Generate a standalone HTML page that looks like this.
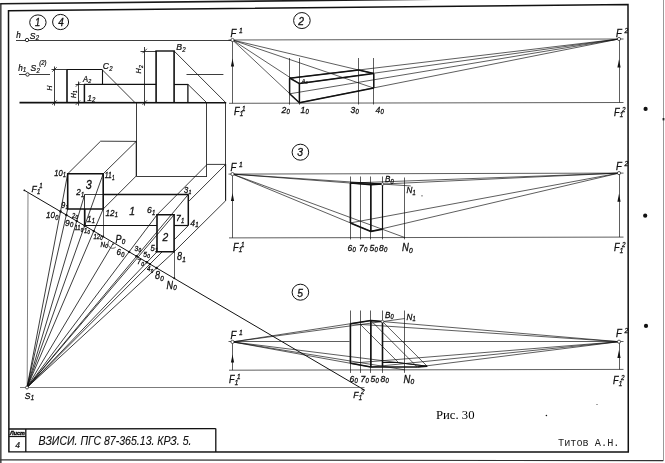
<!DOCTYPE html>
<html lang="ru"><head><meta charset="utf-8"><title>Рис. 30</title>
<style>
html,body{margin:0;padding:0;background:#fff;}
body{width:665px;height:463px;overflow:hidden;}
svg{display:block;filter:grayscale(1);}
</style></head><body>
<svg width="665" height="463" viewBox="0 0 665 463" shape-rendering="geometricPrecision">
<rect x="0" y="0" width="665" height="463" fill="#fff"/>
<g>
<line x1="0.85" y1="463.00" x2="0.85" y2="3.20" stroke="#1a1a1a" stroke-width="1.25"/>
<line x1="0.30" y1="3.70" x2="434.00" y2="-0.70" stroke="#1a1a1a" stroke-width="1.6"/>
<line x1="0.00" y1="459.90" x2="663.20" y2="460.70" stroke="#333" stroke-width="1.2"/>
<line x1="663.50" y1="461.00" x2="663.50" y2="0.00" stroke="#999" stroke-width="1.0"/>
<rect x="662.6" y="118" width="1.8" height="2.4" fill="#222"/>
<polygon points="8.50,10.70 628.00,4.50 628.30,452.00 8.90,451.80" fill="none" stroke="#111" stroke-width="1.5" stroke-linejoin="miter"/>
<line x1="8.90" y1="429.00" x2="215.80" y2="428.60" stroke="#111" stroke-width="1.3"/>
<line x1="215.80" y1="428.60" x2="215.80" y2="452.00" stroke="#111" stroke-width="1.3"/>
<line x1="25.80" y1="429.00" x2="25.80" y2="452.00" stroke="#111" stroke-width="1.3"/>
<line x1="8.90" y1="436.50" x2="25.80" y2="436.50" stroke="#111" stroke-width="1.2"/>
<text transform="translate(10.00,435.20) scale(0.93,1)" font-family="&quot;Liberation Sans&quot;, sans-serif" font-style="italic" font-weight="bold" font-size="5.8" text-anchor="start" fill="#111" stroke="#111" stroke-width="0.45">Лист</text>
<text transform="translate(15.20,447.80) scale(0.9,1)" font-family="&quot;Liberation Sans&quot;, sans-serif" font-style="italic" font-weight="normal" font-size="9.5" text-anchor="start" fill="#111" stroke="#111" stroke-width="0.25">4</text>
<text transform="translate(38.60,445.00) scale(0.812,1)" font-family="&quot;Liberation Sans&quot;, sans-serif" font-style="italic" font-weight="normal" font-size="13" text-anchor="start" fill="#111" stroke="#111" stroke-width="0.12">ВЗИСИ. ПГС 87-365.13. КРЗ. 5.</text>
<text transform="translate(558.00,446.40) scale(1.025,1)" font-family="&quot;Liberation Mono&quot;, monospace" font-style="normal" font-weight="normal" font-size="10" text-anchor="start" fill="#222" stroke="#222" stroke-width="0">Титов А.Н.</text>
<text transform="translate(436.00,418.80) scale(1.0,1)" font-family="&quot;Liberation Serif&quot;, serif" font-style="normal" font-weight="normal" font-size="12.7" text-anchor="start" fill="#000" stroke="#000" stroke-width="0">Рис. 30</text>
<circle cx="645.60" cy="108.90" r="2.1" fill="#111"/>
<circle cx="645.20" cy="215.70" r="2.1" fill="#111"/>
<circle cx="646.00" cy="325.90" r="2.1" fill="#111"/>
<circle cx="546.40" cy="415.50" r="0.8" fill="#111"/>
<circle cx="422.00" cy="195.80" r="0.6" fill="#111"/>
<circle cx="597.00" cy="404.40" r="0.5" fill="#111"/>
<ellipse cx="37.90" cy="22.40" rx="8.2" ry="7.5" fill="none" stroke="#111" stroke-width="1.0"/>
<text transform="translate(35.00,26.10) scale(0.9,1)" font-family="&quot;Liberation Sans&quot;, sans-serif" font-style="italic" font-weight="normal" font-size="10.5" text-anchor="start" fill="#111" stroke="#111" stroke-width="0.3">1</text>
<ellipse cx="60.60" cy="22.00" rx="8.0" ry="7.6" fill="none" stroke="#111" stroke-width="1.0"/>
<text transform="translate(58.30,25.90) scale(0.9,1)" font-family="&quot;Liberation Sans&quot;, sans-serif" font-style="italic" font-weight="normal" font-size="11" text-anchor="start" fill="#111" stroke="#111" stroke-width="0.3">4</text>
<ellipse cx="301.90" cy="20.55" rx="8.3" ry="8.0" fill="none" stroke="#111" stroke-width="1.0"/>
<text transform="translate(298.20,24.80) scale(0.9,1)" font-family="&quot;Liberation Sans&quot;, sans-serif" font-style="italic" font-weight="normal" font-size="11.5" text-anchor="start" fill="#111" stroke="#111" stroke-width="0.3">2</text>
<ellipse cx="300.40" cy="152.20" rx="8.3" ry="8.0" fill="none" stroke="#111" stroke-width="1.0"/>
<text transform="translate(297.30,156.40) scale(0.9,1)" font-family="&quot;Liberation Sans&quot;, sans-serif" font-style="italic" font-weight="normal" font-size="11.5" text-anchor="start" fill="#111" stroke="#111" stroke-width="0.3">3</text>
<ellipse cx="300.40" cy="292.20" rx="8.3" ry="8.0" fill="none" stroke="#111" stroke-width="1.0"/>
<text transform="translate(297.20,296.50) scale(0.9,1)" font-family="&quot;Liberation Sans&quot;, sans-serif" font-style="italic" font-weight="normal" font-size="11.5" text-anchor="start" fill="#111" stroke="#111" stroke-width="0.3">5</text>
<line x1="16.00" y1="40.50" x2="232.50" y2="40.50" stroke="#111" stroke-width="0.82"/>
<circle cx="27.00" cy="40.00" r="1.7" fill="#fff" stroke="#1a1a1a" stroke-width="0.9"/>
<line x1="19.00" y1="74.50" x2="50.00" y2="74.50" stroke="#111" stroke-width="0.82"/>
<circle cx="27.50" cy="74.50" r="1.7" fill="#fff" stroke="#1a1a1a" stroke-width="0.9"/>
<line x1="186.50" y1="74.50" x2="223.40" y2="74.50" stroke="#111" stroke-width="0.82"/>
<line x1="19.50" y1="102.60" x2="226.20" y2="102.80" stroke="#111" stroke-width="1.6"/>
<line x1="67.00" y1="69.50" x2="67.00" y2="102.60" stroke="#111" stroke-width="1.6"/>
<line x1="67.00" y1="69.50" x2="102.00" y2="69.50" stroke="#111" stroke-width="1.1"/>
<line x1="102.50" y1="69.50" x2="102.50" y2="84.50" stroke="#111" stroke-width="1.1"/>
<line x1="84.00" y1="84.40" x2="156.00" y2="84.40" stroke="#111" stroke-width="1.3"/>
<line x1="84.40" y1="84.40" x2="84.40" y2="102.60" stroke="#111" stroke-width="1.5"/>
<line x1="174.10" y1="84.50" x2="187.90" y2="84.50" stroke="#111" stroke-width="1.2"/>
<line x1="187.90" y1="84.30" x2="187.90" y2="102.60" stroke="#111" stroke-width="1.3"/>
<line x1="156.10" y1="51.00" x2="156.10" y2="102.60" stroke="#111" stroke-width="1.6"/>
<line x1="174.10" y1="51.00" x2="174.10" y2="102.60" stroke="#111" stroke-width="1.6"/>
<line x1="155.30" y1="51.00" x2="174.90" y2="51.00" stroke="#111" stroke-width="1.4"/>
<line x1="102.00" y1="69.50" x2="135.00" y2="102.60" stroke="#111" stroke-width="0.82"/>
<line x1="174.10" y1="51.00" x2="225.70" y2="102.60" stroke="#111" stroke-width="0.82"/>
<line x1="187.90" y1="84.30" x2="206.60" y2="102.60" stroke="#111" stroke-width="0.82"/>
<line x1="54.50" y1="66.50" x2="54.50" y2="105.60" stroke="#111" stroke-width="0.82"/>
<line x1="51.50" y1="69.50" x2="67.00" y2="69.50" stroke="#111" stroke-width="0.82"/>
<line x1="52.30" y1="71.70" x2="56.70" y2="67.30" stroke="#111" stroke-width="0.8"/>
<line x1="52.30" y1="104.80" x2="56.70" y2="100.40" stroke="#111" stroke-width="0.8"/>
<line x1="78.50" y1="81.50" x2="78.50" y2="105.60" stroke="#111" stroke-width="0.82"/>
<line x1="75.50" y1="84.50" x2="84.00" y2="84.50" stroke="#111" stroke-width="0.82"/>
<line x1="75.80" y1="86.70" x2="80.20" y2="82.30" stroke="#111" stroke-width="0.8"/>
<line x1="75.80" y1="104.80" x2="80.20" y2="100.40" stroke="#111" stroke-width="0.8"/>
<line x1="144.50" y1="47.00" x2="144.50" y2="105.60" stroke="#111" stroke-width="0.82"/>
<line x1="140.50" y1="51.50" x2="156.00" y2="51.50" stroke="#111" stroke-width="0.82"/>
<line x1="142.50" y1="53.20" x2="146.90" y2="48.80" stroke="#111" stroke-width="0.8"/>
<line x1="142.50" y1="104.80" x2="146.90" y2="100.40" stroke="#111" stroke-width="0.8"/>
<line x1="136.50" y1="102.60" x2="136.50" y2="176.00" stroke="#111" stroke-width="0.82"/>
<line x1="206.50" y1="102.60" x2="206.50" y2="176.40" stroke="#111" stroke-width="0.82"/>
<line x1="225.50" y1="102.60" x2="225.50" y2="200.70" stroke="#111" stroke-width="0.82"/>
<text transform="translate(16.20,38.40) scale(0.9,1)" font-family="&quot;Liberation Sans&quot;, sans-serif" font-style="italic" font-weight="normal" font-size="9" text-anchor="start" fill="#111" stroke="#111" stroke-width="0.25">h</text>
<text transform="translate(29.80,38.50) scale(0.9,1)" font-family="&quot;Liberation Sans&quot;, sans-serif" font-style="italic" font-weight="normal" font-size="9.5" text-anchor="start" fill="#111" stroke="#111" stroke-width="0.25">S<tspan font-size="6.65" dy="1.4" dx="0.2">2</tspan></text>
<text transform="translate(18.20,71.00) scale(0.9,1)" font-family="&quot;Liberation Sans&quot;, sans-serif" font-style="italic" font-weight="normal" font-size="9" text-anchor="start" fill="#111" stroke="#111" stroke-width="0.25">h<tspan font-size="6.30" dy="1.2" dx="0.2">1</tspan></text>
<text transform="translate(30.60,71.00) scale(0.9,1)" font-family="&quot;Liberation Sans&quot;, sans-serif" font-style="italic" font-weight="normal" font-size="9.5" text-anchor="start" fill="#111" stroke="#111" stroke-width="0.25">S<tspan font-size="6.65" dy="1.5" dx="0.2">2</tspan><tspan font-size="6.65" dy="-7.50" dx="-0.60">(2)</tspan></text>
<text transform="translate(102.80,69.10) scale(0.9,1)" font-family="&quot;Liberation Sans&quot;, sans-serif" font-style="italic" font-weight="normal" font-size="9.5" text-anchor="start" fill="#111" stroke="#111" stroke-width="0.25">C<tspan font-size="6.65" dy="1.8" dx="0.2">2</tspan></text>
<text transform="translate(83.00,81.60) scale(0.9,1)" font-family="&quot;Liberation Sans&quot;, sans-serif" font-style="italic" font-weight="normal" font-size="8.5" text-anchor="start" fill="#111" stroke="#111" stroke-width="0.25">A<tspan font-size="5.95" dy="1.2" dx="0.2">2</tspan></text>
<text transform="translate(87.20,100.70) scale(0.9,1)" font-family="&quot;Liberation Sans&quot;, sans-serif" font-style="italic" font-weight="normal" font-size="9.5" text-anchor="start" fill="#111" stroke="#111" stroke-width="0.25">1<tspan font-size="6.65" dy="1.0" dx="0.2">2</tspan></text>
<text transform="translate(176.30,50.30) scale(0.9,1)" font-family="&quot;Liberation Sans&quot;, sans-serif" font-style="italic" font-weight="normal" font-size="9.7" text-anchor="start" fill="#111" stroke="#111" stroke-width="0.25">B<tspan font-size="6.79" dy="1.8" dx="0.2">2</tspan></text>
<text transform="translate(51.70,90.40) rotate(-90) scale(0.9,1)" font-family="&quot;Liberation Sans&quot;, sans-serif" font-style="italic" font-weight="normal" font-size="7.5" text-anchor="start" fill="#111" stroke="#111" stroke-width="0.25">H</text>
<text transform="translate(76.40,97.90) rotate(-90) scale(0.9,1)" font-family="&quot;Liberation Sans&quot;, sans-serif" font-style="italic" font-weight="normal" font-size="7.2" text-anchor="start" fill="#111" stroke="#111" stroke-width="0.25">H<tspan font-size="5.04" dy="1.0" dx="0.2">1</tspan></text>
<text transform="translate(141.40,73.50) rotate(-90) scale(0.9,1)" font-family="&quot;Liberation Sans&quot;, sans-serif" font-style="italic" font-weight="normal" font-size="8" text-anchor="start" fill="#111" stroke="#111" stroke-width="0.25">H<tspan font-size="5.60" dy="1.2" dx="0.2">2</tspan></text>
<polyline points="67.70,173.80 100.60,141.20 136.20,141.40 136.20,176.00 103.20,209.00" fill="none" stroke="#111" stroke-width="0.82" stroke-linejoin="miter"/>
<line x1="136.20" y1="141.40" x2="103.20" y2="173.80" stroke="#111" stroke-width="0.82"/>
<line x1="136.20" y1="176.50" x2="207.00" y2="176.50" stroke="#111" stroke-width="0.82"/>
<polyline points="157.00,214.80 207.20,164.40 225.70,164.40 225.70,200.70 174.10,251.80" fill="none" stroke="#111" stroke-width="0.82" stroke-linejoin="miter"/>
<line x1="225.70" y1="164.40" x2="188.90" y2="201.20" stroke="#111" stroke-width="0.82"/>
<polygon points="67.70,173.80 103.20,173.80 103.20,209.00 67.70,209.00" fill="none" stroke="#111" stroke-width="1.6" stroke-linejoin="miter"/>
<line x1="84.70" y1="194.50" x2="103.20" y2="194.50" stroke="#111" stroke-width="0.8"/>
<line x1="103.20" y1="194.50" x2="188.30" y2="194.40" stroke="#111" stroke-width="1.5"/>
<line x1="188.30" y1="194.40" x2="188.30" y2="225.60" stroke="#111" stroke-width="1.5"/>
<line x1="84.50" y1="194.50" x2="84.50" y2="209.00" stroke="#111" stroke-width="0.8"/>
<line x1="84.70" y1="209.00" x2="84.70" y2="225.60" stroke="#111" stroke-width="1.7"/>
<line x1="84.70" y1="225.50" x2="157.00" y2="225.50" stroke="#111" stroke-width="1.2"/>
<line x1="174.10" y1="225.50" x2="188.30" y2="225.50" stroke="#111" stroke-width="1.2"/>
<polygon points="157.00,214.80 174.10,214.80 174.10,251.80 157.00,251.80" fill="none" stroke="#111" stroke-width="1.6" stroke-linejoin="miter"/>
<line x1="24.00" y1="190.10" x2="364.80" y2="390.30" stroke="#111" stroke-width="1.0"/>
<line x1="28.00" y1="192.00" x2="27.20" y2="386.00" stroke="#444" stroke-width="0.6699999999999999"/>
<line x1="20.00" y1="387.50" x2="364.50" y2="387.50" stroke="#333" stroke-width="0.65"/>
<line x1="67.70" y1="173.80" x2="27.00" y2="387.50" stroke="#111" stroke-width="0.82"/>
<line x1="67.70" y1="209.00" x2="27.00" y2="387.50" stroke="#111" stroke-width="0.82"/>
<line x1="84.70" y1="194.50" x2="27.00" y2="387.50" stroke="#111" stroke-width="0.82"/>
<line x1="103.20" y1="173.80" x2="27.00" y2="387.50" stroke="#111" stroke-width="0.82"/>
<line x1="103.20" y1="209.00" x2="27.00" y2="387.50" stroke="#111" stroke-width="0.82"/>
<line x1="157.00" y1="214.80" x2="27.00" y2="387.50" stroke="#111" stroke-width="0.82"/>
<line x1="188.30" y1="194.40" x2="27.00" y2="387.50" stroke="#111" stroke-width="0.82"/>
<line x1="174.10" y1="214.80" x2="27.00" y2="387.50" stroke="#111" stroke-width="0.82"/>
<line x1="157.00" y1="251.80" x2="27.00" y2="387.50" stroke="#111" stroke-width="0.82"/>
<line x1="174.10" y1="251.80" x2="27.00" y2="387.50" stroke="#111" stroke-width="0.82"/>
<line x1="188.30" y1="225.60" x2="174.10" y2="239.85" stroke="#111" stroke-width="0.82"/>
<line x1="162.20" y1="251.80" x2="27.00" y2="387.50" stroke="#111" stroke-width="0.82"/>
<line x1="113.60" y1="242.73" x2="27.00" y2="387.50" stroke="#111" stroke-width="0.82"/>
<circle cx="27.00" cy="387.50" r="1.5" fill="#fff" stroke="#1a1a1a" stroke-width="0.7"/>
<circle cx="60.51" cy="211.55" r="1.2" fill="#111"/>
<circle cx="66.34" cy="214.97" r="1.2" fill="#111"/>
<circle cx="76.75" cy="221.09" r="1.2" fill="#111"/>
<circle cx="84.68" cy="225.74" r="1.2" fill="#111"/>
<circle cx="93.77" cy="231.09" r="1.2" fill="#111"/>
<circle cx="129.11" cy="251.85" r="1.2" fill="#111"/>
<circle cx="136.63" cy="256.26" r="1.2" fill="#111"/>
<circle cx="146.93" cy="262.31" r="1.2" fill="#111"/>
<circle cx="149.95" cy="264.09" r="1.2" fill="#111"/>
<circle cx="156.57" cy="267.97" r="1.2" fill="#111"/>
<line x1="103.50" y1="209.00" x2="103.50" y2="236.62" stroke="#111" stroke-width="0.6699999999999999"/>
<circle cx="103.20" cy="236.62" r="1.0" fill="#111"/>
<line x1="174.50" y1="251.80" x2="174.50" y2="278.27" stroke="#111" stroke-width="0.6699999999999999"/>
<circle cx="174.30" cy="278.27" r="1.0" fill="#111"/>
<path d="M 109.40 240.33 A 4.6 4.6 0 0 0 115.80 247.03" fill="none" stroke="#1a1a1a" stroke-width="0.7"/>
<circle cx="113.00" cy="244.33" r="0.7" fill="#111"/>
<circle cx="24.30" cy="190.30" r="0.9" fill="#111"/>
<text transform="translate(54.30,175.60) scale(0.8,1)" font-family="&quot;Liberation Sans&quot;, sans-serif" font-style="italic" font-weight="normal" font-size="9.5" text-anchor="start" fill="#111" stroke="#111" stroke-width="0.3">10<tspan font-size="6.65" dy="1.8" dx="0.2">1</tspan></text>
<text transform="translate(104.80,178.40) scale(0.75,1)" font-family="&quot;Liberation Sans&quot;, sans-serif" font-style="italic" font-weight="normal" font-size="9" text-anchor="start" fill="#111" stroke="#111" stroke-width="0.3">11<tspan font-size="6.30" dy="1.8" dx="0.2">1</tspan></text>
<text transform="translate(85.80,188.70) scale(0.9,1)" font-family="&quot;Liberation Sans&quot;, sans-serif" font-style="italic" font-weight="normal" font-size="12" text-anchor="start" fill="#111" stroke="#111" stroke-width="0.3">3</text>
<text transform="translate(76.30,195.20) scale(0.9,1)" font-family="&quot;Liberation Sans&quot;, sans-serif" font-style="italic" font-weight="normal" font-size="9" text-anchor="start" fill="#111" stroke="#111" stroke-width="0.3">2<tspan font-size="6.30" dy="1.8" dx="0.2">1</tspan></text>
<text transform="translate(61.30,207.50) scale(0.85,1)" font-family="&quot;Liberation Sans&quot;, sans-serif" font-style="italic" font-weight="normal" font-size="8.5" text-anchor="start" fill="#111" stroke="#111" stroke-width="0.3">9<tspan font-size="5.95" dy="1.8" dx="0.2">1</tspan></text>
<text transform="translate(105.50,215.50) scale(0.85,1)" font-family="&quot;Liberation Sans&quot;, sans-serif" font-style="italic" font-weight="normal" font-size="9.5" text-anchor="start" fill="#111" stroke="#111" stroke-width="0.3">12<tspan font-size="6.65" dy="1.8" dx="0.2">1</tspan></text>
<text transform="translate(87.00,221.50) scale(0.9,1)" font-family="&quot;Liberation Sans&quot;, sans-serif" font-style="italic" font-weight="normal" font-size="9" text-anchor="start" fill="#111" stroke="#111" stroke-width="0.3">1<tspan font-size="6.30" dy="1.8" dx="0.2">1</tspan></text>
<text transform="translate(72.00,217.50) scale(0.9,1)" font-family="&quot;Liberation Sans&quot;, sans-serif" font-style="italic" font-weight="normal" font-size="6.5" text-anchor="start" fill="#111" stroke="#111" stroke-width="0.3">2<tspan font-size="4.55" dy="1.8" dx="0.2">0</tspan></text>
<text transform="translate(129.20,215.40) scale(0.9,1)" font-family="&quot;Liberation Sans&quot;, sans-serif" font-style="italic" font-weight="normal" font-size="11.5" text-anchor="start" fill="#111" stroke="#111" stroke-width="0.3">1</text>
<text transform="translate(147.00,213.00) scale(0.9,1)" font-family="&quot;Liberation Sans&quot;, sans-serif" font-style="italic" font-weight="normal" font-size="9.5" text-anchor="start" fill="#111" stroke="#111" stroke-width="0.3">6<tspan font-size="6.65" dy="1.8" dx="0.2">1</tspan></text>
<text transform="translate(176.00,221.00) scale(0.9,1)" font-family="&quot;Liberation Sans&quot;, sans-serif" font-style="italic" font-weight="normal" font-size="9.5" text-anchor="start" fill="#111" stroke="#111" stroke-width="0.3">7<tspan font-size="6.65" dy="1.8" dx="0.2">1</tspan></text>
<text transform="translate(190.30,225.60) scale(0.9,1)" font-family="&quot;Liberation Sans&quot;, sans-serif" font-style="italic" font-weight="normal" font-size="9.5" text-anchor="start" fill="#111" stroke="#111" stroke-width="0.3">4<tspan font-size="6.65" dy="1.8" dx="0.2">1</tspan></text>
<text transform="translate(184.00,192.50) scale(0.9,1)" font-family="&quot;Liberation Sans&quot;, sans-serif" font-style="italic" font-weight="normal" font-size="8.5" text-anchor="start" fill="#111" stroke="#111" stroke-width="0.3">3<tspan font-size="5.95" dy="1.8" dx="0.2">1</tspan></text>
<text transform="translate(162.60,241.00) scale(0.9,1)" font-family="&quot;Liberation Sans&quot;, sans-serif" font-style="italic" font-weight="normal" font-size="11.5" text-anchor="start" fill="#111" stroke="#111" stroke-width="0.3">2</text>
<text transform="translate(150.50,250.50) scale(0.9,1)" font-family="&quot;Liberation Sans&quot;, sans-serif" font-style="italic" font-weight="normal" font-size="8.5" text-anchor="start" fill="#111" stroke="#111" stroke-width="0.3">5<tspan font-size="5.95" dy="1.8" dx="0.2">1</tspan></text>
<text transform="translate(177.00,260.00) scale(0.9,1)" font-family="&quot;Liberation Sans&quot;, sans-serif" font-style="italic" font-weight="normal" font-size="10" text-anchor="start" fill="#111" stroke="#111" stroke-width="0.3">8<tspan font-size="7.00" dy="1.8" dx="0.2">1</tspan></text>
<text transform="translate(31.50,192.00) scale(0.9,1)" font-family="&quot;Liberation Sans&quot;, sans-serif" font-style="italic" font-weight="normal" font-size="9.5" text-anchor="start" fill="#111" stroke="#111" stroke-width="0.3">F<tspan font-size="6.65" dy="1.8" dx="0.2">1</tspan><tspan font-size="6.65" dy="-5.80" dx="-1.10">1</tspan></text>
<text transform="translate(46.00,218.00) scale(0.85,1)" font-family="&quot;Liberation Sans&quot;, sans-serif" font-style="italic" font-weight="normal" font-size="9.5" text-anchor="start" fill="#111" stroke="#111" stroke-width="0.3">10<tspan font-size="6.65" dy="1.8" dx="0.2">0</tspan></text>
<text transform="translate(65.00,225.60) scale(0.9,1)" font-family="&quot;Liberation Sans&quot;, sans-serif" font-style="italic" font-weight="normal" font-size="9.5" text-anchor="start" fill="#111" stroke="#111" stroke-width="0.3">9<tspan font-size="6.65" dy="1.8" dx="0.2">0</tspan></text>
<text transform="translate(74.50,230.00) scale(0.9,1)" font-family="&quot;Liberation Sans&quot;, sans-serif" font-style="italic" font-weight="normal" font-size="6.5" text-anchor="start" fill="#111" stroke="#111" stroke-width="0.3">11<tspan font-size="4.55" dy="1.8" dx="0.2">0</tspan></text>
<text transform="translate(84.00,232.50) scale(0.9,1)" font-family="&quot;Liberation Sans&quot;, sans-serif" font-style="italic" font-weight="normal" font-size="6.5" text-anchor="start" fill="#111" stroke="#111" stroke-width="0.3">1<tspan font-size="4.55" dy="1.8" dx="0.2">0</tspan></text>
<text transform="translate(93.50,238.50) scale(0.9,1)" font-family="&quot;Liberation Sans&quot;, sans-serif" font-style="italic" font-weight="normal" font-size="6.5" text-anchor="start" fill="#111" stroke="#111" stroke-width="0.3">12<tspan font-size="4.55" dy="1.8" dx="0.2">0</tspan></text>
<text transform="translate(100.50,246.50) scale(0.9,1)" font-family="&quot;Liberation Sans&quot;, sans-serif" font-style="italic" font-weight="normal" font-size="7" text-anchor="start" fill="#111" stroke="#111" stroke-width="0.3">N<tspan font-size="4.90" dy="1.8" dx="0.2">0</tspan></text>
<text transform="translate(115.50,242.50) scale(0.9,1)" font-family="&quot;Liberation Sans&quot;, sans-serif" font-style="italic" font-weight="normal" font-size="10" text-anchor="start" fill="#111" stroke="#111" stroke-width="0.3">P<tspan font-size="7.00" dy="1.8" dx="0.2">0</tspan></text>
<text transform="translate(116.50,255.20) scale(0.9,1)" font-family="&quot;Liberation Sans&quot;, sans-serif" font-style="italic" font-weight="normal" font-size="9" text-anchor="start" fill="#111" stroke="#111" stroke-width="0.3">6<tspan font-size="6.30" dy="1.8" dx="0.2">0</tspan></text>
<text transform="translate(134.50,250.50) scale(0.9,1)" font-family="&quot;Liberation Sans&quot;, sans-serif" font-style="italic" font-weight="normal" font-size="7.5" text-anchor="start" fill="#111" stroke="#111" stroke-width="0.3">3<tspan font-size="5.25" dy="1.8" dx="0.2">0</tspan></text>
<text transform="translate(137.00,264.00) scale(0.9,1)" font-family="&quot;Liberation Sans&quot;, sans-serif" font-style="italic" font-weight="normal" font-size="8" text-anchor="start" fill="#111" stroke="#111" stroke-width="0.3">7<tspan font-size="5.60" dy="1.8" dx="0.2">0</tspan></text>
<text transform="translate(143.20,256.50) scale(0.9,1)" font-family="&quot;Liberation Sans&quot;, sans-serif" font-style="italic" font-weight="normal" font-size="7.5" text-anchor="start" fill="#111" stroke="#111" stroke-width="0.3">5<tspan font-size="5.25" dy="1.8" dx="0.2">0</tspan></text>
<text transform="translate(147.00,271.00) scale(0.9,1)" font-family="&quot;Liberation Sans&quot;, sans-serif" font-style="italic" font-weight="normal" font-size="7" text-anchor="start" fill="#111" stroke="#111" stroke-width="0.3">4<tspan font-size="4.90" dy="1.8" dx="0.2">0</tspan></text>
<text transform="translate(155.00,279.00) scale(0.9,1)" font-family="&quot;Liberation Sans&quot;, sans-serif" font-style="italic" font-weight="normal" font-size="10" text-anchor="start" fill="#111" stroke="#111" stroke-width="0.3">8<tspan font-size="7.00" dy="1.8" dx="0.2">0</tspan></text>
<text transform="translate(166.50,288.50) scale(0.9,1)" font-family="&quot;Liberation Sans&quot;, sans-serif" font-style="italic" font-weight="normal" font-size="10" text-anchor="start" fill="#111" stroke="#111" stroke-width="0.3">N<tspan font-size="7.00" dy="1.8" dx="0.2">0</tspan></text>
<text transform="translate(24.80,398.60) scale(0.9,1)" font-family="&quot;Liberation Sans&quot;, sans-serif" font-style="italic" font-weight="normal" font-size="9.5" text-anchor="start" fill="#111" stroke="#111" stroke-width="0.3">S<tspan font-size="6.65" dy="1.8" dx="0.2">1</tspan></text>
<text transform="translate(353.30,398.30) scale(0.9,1)" font-family="&quot;Liberation Sans&quot;, sans-serif" font-style="italic" font-weight="normal" font-size="9.5" text-anchor="start" fill="#111" stroke="#111" stroke-width="0.3">F<tspan font-size="6.65" dy="1.8" dx="0.2">1</tspan><tspan font-size="6.65" dy="-5.80" dx="-1.10">2</tspan></text>
<line x1="228.50" y1="40.00" x2="623.50" y2="39.00" stroke="#111" stroke-width="0.68"/>
<line x1="229.00" y1="103.30" x2="623.50" y2="102.50" stroke="#111" stroke-width="0.68"/>
<line x1="232.50" y1="40.00" x2="232.50" y2="103.30" stroke="#111" stroke-width="0.68"/>
<line x1="619.50" y1="39.00" x2="619.50" y2="102.50" stroke="#111" stroke-width="0.68"/>
<line x1="289.50" y1="58.00" x2="289.50" y2="104.68" stroke="#111" stroke-width="0.68"/>
<line x1="299.50" y1="58.00" x2="299.50" y2="104.66" stroke="#111" stroke-width="0.68"/>
<line x1="358.50" y1="58.00" x2="358.50" y2="104.54" stroke="#111" stroke-width="0.68"/>
<line x1="373.50" y1="58.00" x2="373.50" y2="104.51" stroke="#111" stroke-width="0.68"/>
<line x1="232.50" y1="40.00" x2="299.40" y2="83.60" stroke="#111" stroke-width="0.68"/>
<line x1="232.50" y1="40.00" x2="299.40" y2="102.70" stroke="#111" stroke-width="0.68"/>
<line x1="232.50" y1="40.00" x2="373.80" y2="73.60" stroke="#111" stroke-width="0.68"/>
<line x1="232.50" y1="40.00" x2="373.80" y2="88.10" stroke="#111" stroke-width="0.68"/>
<line x1="619.00" y1="39.00" x2="289.60" y2="78.20" stroke="#111" stroke-width="0.68"/>
<line x1="619.00" y1="39.00" x2="299.40" y2="83.60" stroke="#111" stroke-width="0.68"/>
<line x1="619.00" y1="39.00" x2="289.60" y2="93.80" stroke="#111" stroke-width="0.68"/>
<line x1="619.00" y1="39.00" x2="299.40" y2="102.70" stroke="#111" stroke-width="0.68"/>
<line x1="299.40" y1="83.60" x2="299.40" y2="102.70" stroke="#111" stroke-width="1.5"/>
<line x1="289.60" y1="78.20" x2="289.60" y2="93.80" stroke="#111" stroke-width="1.5"/>
<line x1="373.80" y1="73.60" x2="373.80" y2="88.10" stroke="#111" stroke-width="1.5"/>
<line x1="299.40" y1="83.60" x2="289.60" y2="78.20" stroke="#111" stroke-width="1.5"/>
<line x1="299.40" y1="102.70" x2="289.60" y2="93.80" stroke="#111" stroke-width="1.5"/>
<line x1="299.40" y1="83.60" x2="373.80" y2="73.60" stroke="#111" stroke-width="1.5"/>
<line x1="299.40" y1="102.70" x2="373.80" y2="88.10" stroke="#111" stroke-width="1.5"/>
<line x1="289.60" y1="78.20" x2="358.61" y2="69.99" stroke="#111" stroke-width="1.5"/>
<line x1="358.61" y1="69.99" x2="373.80" y2="73.60" stroke="#111" stroke-width="1.5"/>
<circle cx="232.50" cy="40.00" r="1.6" fill="#fff" stroke="#1a1a1a" stroke-width="0.7"/>
<circle cx="619.00" cy="39.00" r="1.6" fill="#fff" stroke="#1a1a1a" stroke-width="0.7"/>
<polygon points="232.50,58.50 230.90,66.50 234.10,66.50" fill="#111"/>
<polygon points="619.00,59.50 617.40,67.50 620.60,67.50" fill="#111"/>
<text transform="translate(230.50,37.20) scale(0.9,1)" font-family="&quot;Liberation Sans&quot;, sans-serif" font-style="italic" font-weight="normal" font-size="10.5" text-anchor="start" fill="#111" stroke="#111" stroke-width="0.3">F<tspan font-size="7.35" dy="-4.0" dx="3.00">1</tspan></text>
<text transform="translate(616.00,37.00) scale(0.9,1)" font-family="&quot;Liberation Sans&quot;, sans-serif" font-style="italic" font-weight="normal" font-size="10.5" text-anchor="start" fill="#111" stroke="#111" stroke-width="0.3">F<tspan font-size="7.35" dy="-4.0" dx="3.00">2</tspan></text>
<text transform="translate(234.00,114.50) scale(0.9,1)" font-family="&quot;Liberation Sans&quot;, sans-serif" font-style="italic" font-weight="normal" font-size="10" text-anchor="start" fill="#111" stroke="#111" stroke-width="0.3">F<tspan font-size="7.00" dy="1.8" dx="0.2">1</tspan><tspan font-size="7.00" dy="-5.80" dx="-1.29">1</tspan></text>
<text transform="translate(614.00,115.60) scale(0.9,1)" font-family="&quot;Liberation Sans&quot;, sans-serif" font-style="italic" font-weight="normal" font-size="10" text-anchor="start" fill="#111" stroke="#111" stroke-width="0.3">F<tspan font-size="7.00" dy="1.8" dx="0.2">1</tspan><tspan font-size="7.00" dy="-5.80" dx="-1.29">2</tspan></text>
<text transform="translate(281.50,112.60) scale(0.9,1)" font-family="&quot;Liberation Sans&quot;, sans-serif" font-style="italic" font-weight="normal" font-size="9.5" text-anchor="start" fill="#111" stroke="#111" stroke-width="0.3">2<tspan font-size="6.65" dy="1.8" dx="0.2">0</tspan></text>
<text transform="translate(300.50,112.60) scale(0.9,1)" font-family="&quot;Liberation Sans&quot;, sans-serif" font-style="italic" font-weight="normal" font-size="9.5" text-anchor="start" fill="#111" stroke="#111" stroke-width="0.3">1<tspan font-size="6.65" dy="1.8" dx="0.2">0</tspan></text>
<text transform="translate(350.50,112.60) scale(0.9,1)" font-family="&quot;Liberation Sans&quot;, sans-serif" font-style="italic" font-weight="normal" font-size="9.5" text-anchor="start" fill="#111" stroke="#111" stroke-width="0.3">3<tspan font-size="6.65" dy="1.8" dx="0.2">0</tspan></text>
<text transform="translate(375.50,112.60) scale(0.9,1)" font-family="&quot;Liberation Sans&quot;, sans-serif" font-style="italic" font-weight="normal" font-size="9.5" text-anchor="start" fill="#111" stroke="#111" stroke-width="0.3">4<tspan font-size="6.65" dy="1.8" dx="0.2">0</tspan></text>
<text transform="translate(301.80,82.80) scale(0.9,1)" font-family="&quot;Liberation Sans&quot;, sans-serif" font-style="italic" font-weight="normal" font-size="6" text-anchor="start" fill="#111" stroke="#111" stroke-width="0.2">A<tspan font-size="4.20" dy="0.8" dx="0.2">0</tspan></text>
<line x1="228.50" y1="174.10" x2="623.50" y2="173.10" stroke="#111" stroke-width="0.68"/>
<line x1="229.00" y1="237.90" x2="623.50" y2="237.10" stroke="#111" stroke-width="0.68"/>
<line x1="232.50" y1="174.10" x2="232.50" y2="237.90" stroke="#111" stroke-width="0.68"/>
<line x1="619.50" y1="173.10" x2="619.50" y2="237.10" stroke="#111" stroke-width="0.68"/>
<line x1="350.50" y1="176.50" x2="350.50" y2="239.45" stroke="#111" stroke-width="0.68"/>
<line x1="360.50" y1="176.50" x2="360.50" y2="239.43" stroke="#111" stroke-width="0.68"/>
<line x1="370.50" y1="176.50" x2="370.50" y2="239.41" stroke="#111" stroke-width="0.68"/>
<line x1="382.50" y1="176.50" x2="382.50" y2="239.39" stroke="#111" stroke-width="0.68"/>
<line x1="404.50" y1="177.50" x2="404.50" y2="239.34" stroke="#111" stroke-width="0.68"/>
<line x1="232.50" y1="174.10" x2="370.90" y2="231.40" stroke="#111" stroke-width="0.68"/>
<line x1="232.50" y1="174.10" x2="404.80" y2="237.54" stroke="#111" stroke-width="0.68"/>
<line x1="232.50" y1="174.10" x2="370.90" y2="184.60" stroke="#111" stroke-width="0.68"/>
<line x1="232.50" y1="174.10" x2="410.80" y2="185.94" stroke="#111" stroke-width="0.68"/>
<line x1="619.00" y1="173.10" x2="350.40" y2="222.91" stroke="#111" stroke-width="0.68"/>
<line x1="619.00" y1="173.10" x2="370.90" y2="231.40" stroke="#111" stroke-width="0.68"/>
<line x1="619.00" y1="173.10" x2="350.40" y2="183.04" stroke="#111" stroke-width="0.68"/>
<line x1="619.00" y1="173.10" x2="370.90" y2="184.60" stroke="#111" stroke-width="0.68"/>
<line x1="350.40" y1="183.04" x2="350.40" y2="222.91" stroke="#111" stroke-width="1.6"/>
<line x1="370.90" y1="184.60" x2="370.90" y2="231.40" stroke="#111" stroke-width="1.6"/>
<line x1="382.50" y1="184.06" x2="382.50" y2="229.33" stroke="#111" stroke-width="1.2"/>
<line x1="350.40" y1="183.04" x2="370.90" y2="184.60" stroke="#111" stroke-width="1.6"/>
<line x1="370.90" y1="184.60" x2="382.50" y2="184.06" stroke="#111" stroke-width="1.6"/>
<line x1="350.40" y1="222.91" x2="370.90" y2="231.40" stroke="#111" stroke-width="1.6"/>
<line x1="370.90" y1="231.40" x2="382.50" y2="229.33" stroke="#111" stroke-width="1.6"/>
<line x1="350.40" y1="183.04" x2="360.50" y2="182.60" stroke="#111" stroke-width="1.0"/>
<line x1="360.50" y1="182.60" x2="382.50" y2="184.06" stroke="#111" stroke-width="1.0"/>
<circle cx="382.50" cy="184.06" r="1.3" fill="#fff" stroke="#1a1a1a" stroke-width="0.6"/>
<circle cx="232.50" cy="174.10" r="1.6" fill="#fff" stroke="#1a1a1a" stroke-width="0.7"/>
<circle cx="619.00" cy="173.10" r="1.6" fill="#fff" stroke="#1a1a1a" stroke-width="0.7"/>
<polygon points="232.50,193.00 230.90,201.00 234.10,201.00" fill="#111"/>
<polygon points="619.00,193.80 617.40,201.80 620.60,201.80" fill="#111"/>
<text transform="translate(230.50,170.50) scale(0.9,1)" font-family="&quot;Liberation Sans&quot;, sans-serif" font-style="italic" font-weight="normal" font-size="10.5" text-anchor="start" fill="#111" stroke="#111" stroke-width="0.3">F<tspan font-size="7.35" dy="-4.0" dx="3.00">1</tspan></text>
<text transform="translate(616.00,170.00) scale(0.9,1)" font-family="&quot;Liberation Sans&quot;, sans-serif" font-style="italic" font-weight="normal" font-size="10.5" text-anchor="start" fill="#111" stroke="#111" stroke-width="0.3">F<tspan font-size="7.35" dy="-4.0" dx="3.00">2</tspan></text>
<text transform="translate(233.00,250.50) scale(0.9,1)" font-family="&quot;Liberation Sans&quot;, sans-serif" font-style="italic" font-weight="normal" font-size="10" text-anchor="start" fill="#111" stroke="#111" stroke-width="0.3">F<tspan font-size="7.00" dy="1.8" dx="0.2">1</tspan><tspan font-size="7.00" dy="-5.80" dx="-1.29">1</tspan></text>
<text transform="translate(614.00,251.00) scale(0.9,1)" font-family="&quot;Liberation Sans&quot;, sans-serif" font-style="italic" font-weight="normal" font-size="10" text-anchor="start" fill="#111" stroke="#111" stroke-width="0.3">F<tspan font-size="7.00" dy="1.8" dx="0.2">1</tspan><tspan font-size="7.00" dy="-5.80" dx="-1.29">2</tspan></text>
<text transform="translate(347.50,250.50) scale(0.9,1)" font-family="&quot;Liberation Sans&quot;, sans-serif" font-style="italic" font-weight="normal" font-size="9.5" text-anchor="start" fill="#111" stroke="#111" stroke-width="0.3">6<tspan font-size="6.65" dy="1.8" dx="0.2">0</tspan></text>
<text transform="translate(359.00,250.50) scale(0.9,1)" font-family="&quot;Liberation Sans&quot;, sans-serif" font-style="italic" font-weight="normal" font-size="9.5" text-anchor="start" fill="#111" stroke="#111" stroke-width="0.3">7<tspan font-size="6.65" dy="1.8" dx="0.2">0</tspan></text>
<text transform="translate(369.50,250.50) scale(0.9,1)" font-family="&quot;Liberation Sans&quot;, sans-serif" font-style="italic" font-weight="normal" font-size="9.5" text-anchor="start" fill="#111" stroke="#111" stroke-width="0.3">5<tspan font-size="6.65" dy="1.8" dx="0.2">0</tspan></text>
<text transform="translate(379.00,250.50) scale(0.9,1)" font-family="&quot;Liberation Sans&quot;, sans-serif" font-style="italic" font-weight="normal" font-size="9.5" text-anchor="start" fill="#111" stroke="#111" stroke-width="0.3">8<tspan font-size="6.65" dy="1.8" dx="0.2">0</tspan></text>
<text transform="translate(402.00,251.00) scale(0.9,1)" font-family="&quot;Liberation Sans&quot;, sans-serif" font-style="italic" font-weight="normal" font-size="10.5" text-anchor="start" fill="#111" stroke="#111" stroke-width="0.3">N<tspan font-size="7.35" dy="1.8" dx="0.2">0</tspan></text>
<text transform="translate(385.00,182.00) scale(0.9,1)" font-family="&quot;Liberation Sans&quot;, sans-serif" font-style="italic" font-weight="normal" font-size="9" text-anchor="start" fill="#111" stroke="#111" stroke-width="0.3">B<tspan font-size="6.30" dy="1.8" dx="0.2">0</tspan></text>
<text transform="translate(406.50,193.00) scale(0.9,1)" font-family="&quot;Liberation Sans&quot;, sans-serif" font-style="italic" font-weight="normal" font-size="9" text-anchor="start" fill="#111" stroke="#111" stroke-width="0.3">N<tspan font-size="6.30" dy="1.8" dx="0.2">1</tspan></text>
<line x1="228.50" y1="341.50" x2="349.50" y2="341.50" stroke="#111" stroke-width="0.68"/>
<line x1="383.00" y1="341.50" x2="623.50" y2="341.50" stroke="#111" stroke-width="0.68"/>
<line x1="229.00" y1="370.20" x2="623.50" y2="369.40" stroke="#111" stroke-width="0.68"/>
<line x1="232.50" y1="341.90" x2="232.50" y2="370.20" stroke="#111" stroke-width="0.68"/>
<line x1="619.50" y1="341.70" x2="619.50" y2="369.40" stroke="#111" stroke-width="0.68"/>
<line x1="350.50" y1="310.50" x2="350.50" y2="372.95" stroke="#111" stroke-width="0.68"/>
<line x1="360.50" y1="310.50" x2="360.50" y2="372.93" stroke="#111" stroke-width="0.68"/>
<line x1="370.50" y1="310.50" x2="370.50" y2="372.91" stroke="#111" stroke-width="0.68"/>
<line x1="382.50" y1="310.50" x2="382.50" y2="372.89" stroke="#111" stroke-width="0.68"/>
<line x1="404.50" y1="310.50" x2="404.50" y2="372.84" stroke="#111" stroke-width="0.68"/>
<line x1="232.50" y1="341.90" x2="370.90" y2="367.00" stroke="#111" stroke-width="0.68"/>
<line x1="232.50" y1="341.90" x2="404.80" y2="369.84" stroke="#111" stroke-width="0.68"/>
<line x1="232.50" y1="341.90" x2="370.90" y2="320.58" stroke="#111" stroke-width="0.68"/>
<line x1="232.50" y1="341.90" x2="404.80" y2="318.54" stroke="#111" stroke-width="0.68"/>
<line x1="232.50" y1="341.90" x2="427.16" y2="366.23" stroke="#111" stroke-width="0.68"/>
<line x1="619.00" y1="341.70" x2="350.40" y2="363.28" stroke="#111" stroke-width="0.68"/>
<line x1="619.00" y1="341.70" x2="370.90" y2="367.00" stroke="#111" stroke-width="0.68"/>
<line x1="619.00" y1="341.70" x2="350.40" y2="323.74" stroke="#111" stroke-width="0.68"/>
<line x1="619.00" y1="341.70" x2="370.90" y2="320.58" stroke="#111" stroke-width="0.68"/>
<line x1="619.00" y1="341.70" x2="417.32" y2="367.00" stroke="#111" stroke-width="0.68"/>
<line x1="370.90" y1="320.58" x2="417.32" y2="367.00" stroke="#111" stroke-width="0.68"/>
<line x1="382.50" y1="321.57" x2="427.16" y2="366.23" stroke="#111" stroke-width="0.68"/>
<line x1="360.50" y1="324.55" x2="398.61" y2="362.66" stroke="#111" stroke-width="0.68"/>
<line x1="350.40" y1="323.74" x2="350.40" y2="363.28" stroke="#111" stroke-width="1.6"/>
<line x1="370.90" y1="320.58" x2="370.90" y2="367.00" stroke="#111" stroke-width="1.6"/>
<line x1="382.50" y1="321.57" x2="382.50" y2="366.23" stroke="#111" stroke-width="1.6"/>
<line x1="350.40" y1="323.74" x2="370.90" y2="320.58" stroke="#111" stroke-width="1.6"/>
<line x1="370.90" y1="320.58" x2="382.50" y2="321.57" stroke="#111" stroke-width="1.6"/>
<line x1="350.40" y1="363.28" x2="370.90" y2="367.00" stroke="#111" stroke-width="1.6"/>
<line x1="370.90" y1="367.00" x2="417.32" y2="367.00" stroke="#111" stroke-width="1.5"/>
<line x1="417.32" y1="367.00" x2="427.16" y2="366.23" stroke="#111" stroke-width="1.5"/>
<line x1="427.16" y1="366.23" x2="398.61" y2="362.66" stroke="#111" stroke-width="1.0"/>
<line x1="398.61" y1="362.50" x2="382.50" y2="362.50" stroke="#111" stroke-width="1.0"/>
<circle cx="382.50" cy="321.57" r="1.3" fill="#fff" stroke="#1a1a1a" stroke-width="0.6"/>
<circle cx="232.50" cy="341.90" r="1.6" fill="#fff" stroke="#1a1a1a" stroke-width="0.7"/>
<circle cx="619.00" cy="341.70" r="1.6" fill="#fff" stroke="#1a1a1a" stroke-width="0.7"/>
<polygon points="232.50,354.40 230.90,362.40 234.10,362.40" fill="#111"/>
<polygon points="619.00,350.00 617.40,358.00 620.60,358.00" fill="#111"/>
<text transform="translate(230.50,338.50) scale(0.9,1)" font-family="&quot;Liberation Sans&quot;, sans-serif" font-style="italic" font-weight="normal" font-size="10.5" text-anchor="start" fill="#111" stroke="#111" stroke-width="0.3">F<tspan font-size="7.35" dy="-4.0" dx="3.00">1</tspan></text>
<text transform="translate(616.00,337.00) scale(0.9,1)" font-family="&quot;Liberation Sans&quot;, sans-serif" font-style="italic" font-weight="normal" font-size="10.5" text-anchor="start" fill="#111" stroke="#111" stroke-width="0.3">F<tspan font-size="7.35" dy="-4.0" dx="3.00">2</tspan></text>
<text transform="translate(229.00,383.00) scale(0.9,1)" font-family="&quot;Liberation Sans&quot;, sans-serif" font-style="italic" font-weight="normal" font-size="10" text-anchor="start" fill="#111" stroke="#111" stroke-width="0.3">F<tspan font-size="7.00" dy="1.8" dx="0.2">1</tspan><tspan font-size="7.00" dy="-5.80" dx="-1.29">1</tspan></text>
<text transform="translate(613.00,384.00) scale(0.9,1)" font-family="&quot;Liberation Sans&quot;, sans-serif" font-style="italic" font-weight="normal" font-size="10" text-anchor="start" fill="#111" stroke="#111" stroke-width="0.3">F<tspan font-size="7.00" dy="1.8" dx="0.2">1</tspan><tspan font-size="7.00" dy="-5.80" dx="-1.29">2</tspan></text>
<text transform="translate(349.50,381.50) scale(0.9,1)" font-family="&quot;Liberation Sans&quot;, sans-serif" font-style="italic" font-weight="normal" font-size="9.5" text-anchor="start" fill="#111" stroke="#111" stroke-width="0.3">6<tspan font-size="6.65" dy="1.8" dx="0.2">0</tspan></text>
<text transform="translate(360.50,381.50) scale(0.9,1)" font-family="&quot;Liberation Sans&quot;, sans-serif" font-style="italic" font-weight="normal" font-size="9.5" text-anchor="start" fill="#111" stroke="#111" stroke-width="0.3">7<tspan font-size="6.65" dy="1.8" dx="0.2">0</tspan></text>
<text transform="translate(370.50,381.50) scale(0.9,1)" font-family="&quot;Liberation Sans&quot;, sans-serif" font-style="italic" font-weight="normal" font-size="9.5" text-anchor="start" fill="#111" stroke="#111" stroke-width="0.3">5<tspan font-size="6.65" dy="1.8" dx="0.2">0</tspan></text>
<text transform="translate(380.50,381.50) scale(0.9,1)" font-family="&quot;Liberation Sans&quot;, sans-serif" font-style="italic" font-weight="normal" font-size="9.5" text-anchor="start" fill="#111" stroke="#111" stroke-width="0.3">8<tspan font-size="6.65" dy="1.8" dx="0.2">0</tspan></text>
<text transform="translate(403.50,382.50) scale(0.9,1)" font-family="&quot;Liberation Sans&quot;, sans-serif" font-style="italic" font-weight="normal" font-size="10.5" text-anchor="start" fill="#111" stroke="#111" stroke-width="0.3">N<tspan font-size="7.35" dy="1.8" dx="0.2">0</tspan></text>
<text transform="translate(385.00,317.50) scale(0.9,1)" font-family="&quot;Liberation Sans&quot;, sans-serif" font-style="italic" font-weight="normal" font-size="9" text-anchor="start" fill="#111" stroke="#111" stroke-width="0.3">B<tspan font-size="6.30" dy="1.8" dx="0.2">0</tspan></text>
<text transform="translate(406.50,319.50) scale(0.9,1)" font-family="&quot;Liberation Sans&quot;, sans-serif" font-style="italic" font-weight="normal" font-size="9" text-anchor="start" fill="#111" stroke="#111" stroke-width="0.3">N<tspan font-size="6.30" dy="1.8" dx="0.2">1</tspan></text>
</g>
</svg>
</body></html>
